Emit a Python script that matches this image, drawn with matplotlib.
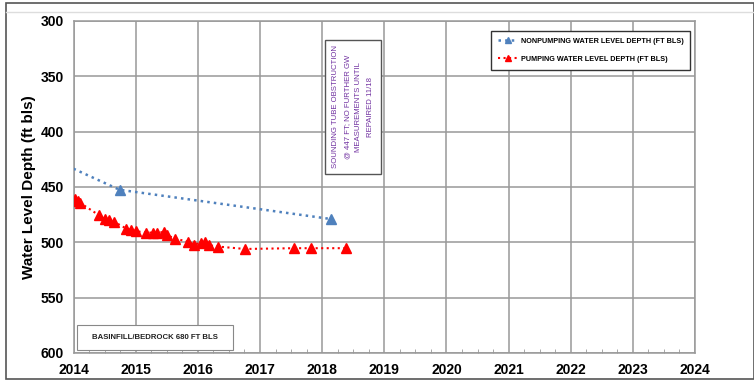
import matplotlib
matplotlib.use("Agg")
import matplotlib.pyplot as plt
from matplotlib.ticker import MultipleLocator
from matplotlib.patches import Rectangle

# Nonpumping water level (first point is the line entering from the left edge, no marker)
np_years = [2014.0, 2014.74, 2018.15]
np_depth = [433.5, 452.5, 479.0]

# Pumping water level
p_years = [2014.03, 2014.07, 2014.11, 2014.41, 2014.50, 2014.57, 2014.65, 2014.85,
           2014.92, 2015.01, 2015.17, 2015.28, 2015.34, 2015.45, 2015.51, 2015.63,
           2015.84, 2015.94, 2016.05, 2016.11, 2016.18, 2016.32, 2016.76, 2017.55,
           2017.82, 2018.38]
p_depth = [461.0, 463.0, 464.5, 475.5, 479.0, 480.0, 481.3, 487.6,
           488.8, 490.0, 491.2, 491.2, 491.5, 490.6, 493.6, 496.6,
           499.4, 502.0, 500.3, 499.4, 502.6, 503.8, 506.0, 505.3,
           505.3, 505.3]

x_ticks = [2014, 2015, 2016, 2017, 2018, 2019, 2020, 2021, 2022, 2023, 2024]
y_ticks = [300, 350, 400, 450, 500, 550, 600]

legend_np = "NONPUMPING WATER LEVEL DEPTH (FT BLS)"
legend_p = "PUMPING WATER LEVEL DEPTH (FT BLS)"
note_text = "SOUNDING TUBE OBSTRUCTION\n@ 447 FT; NO FURTHER GW\nMEASUREMENTS UNTIL\nREPAIRED 11/18"
well_text = "BASINFILL/BEDROCK 680 FT BLS"

FONT = ['Liberation Sans', 'DejaVu Sans']
plt.rcParams['font.family'] = FONT

fig = plt.figure(figsize=(7.54, 3.81), dpi=100)
ax = fig.add_axes([0.0975, 0.0735, 0.8243, 0.8714])

blue = "#4F81BD"
red = "#FF0000"

ax.plot(np_years, np_depth, linestyle=":", color=blue, linewidth=1.8,
        marker="^", markersize=7, markevery=[1, 2], label=legend_np, zorder=3)
ax.plot(p_years, p_depth, linestyle=":", color=red, linewidth=1.5,
        marker="^", markersize=7, label=legend_p, zorder=3)

ax.set_xlim(2014, 2024)
ax.set_ylim(600, 300)
ax.set_xticks(x_ticks)
ax.set_yticks(y_ticks)
ax.xaxis.set_minor_locator(MultipleLocator(0.25))
ax.tick_params(axis='x', which='minor', direction='in', length=3, color='#999999')
ax.tick_params(axis='both', which='major', length=0, pad=7)
for lbl in ax.get_xticklabels() + ax.get_yticklabels():
    lbl.set_fontweight('bold')
    lbl.set_fontsize(10)
ax.grid(True, which='major', color='#999999', linewidth=1.1)
ax.set_axisbelow(True)
for s in ax.spines.values():
    s.set_color('#999999')
    s.set_linewidth(1.1)

ax.set_ylabel("Water Level Depth (ft bls)", fontsize=11, fontweight='bold', labelpad=3)

leg = ax.legend(loc='upper right', bbox_to_anchor=(0.9985, 0.982),
                frameon=True, fancybox=False, edgecolor='#333333', framealpha=1,
                handlelength=2.6, handletextpad=0.5, borderpad=1.0, labelspacing=1.5,
                markerscale=0.7,
                prop={'family': FONT, 'weight': 'bold', 'size': 5.2})
leg.get_frame().set_linewidth(1.0)

# obstruction note
ax.add_patch(Rectangle((2018.05, 317), 0.9, 121, facecolor='white',
                       edgecolor='#555555', linewidth=1.0, zorder=4))
ax.text(2018.5, 377.5, note_text, rotation=90, ha='center', va='center',
        fontsize=5.6, color='#7030A0', linespacing=1.9, multialignment='center',
        zorder=5)

# well info box
ax.add_patch(Rectangle((2014.06, 575), 2.5, 22.5, facecolor='white',
                       edgecolor='#888888', linewidth=0.8, zorder=4))
ax.text(2015.31, 586.3, well_text, ha='center', va='center', fontsize=5.6,
        fontweight='bold', color='#222222', zorder=5)

# figure frame
fig.add_artist(Rectangle((6/754, 2/381), 748/754, 376/381, transform=fig.transFigure,
                         fill=False, edgecolor='#555555', linewidth=1.2))
fig.add_artist(plt.Line2D([6/754, 1.0], [1 - 12/381, 1 - 12/381], transform=fig.transFigure,
                          color='#dddddd', linewidth=1.0))

fig.savefig("out.png", dpi=100)
